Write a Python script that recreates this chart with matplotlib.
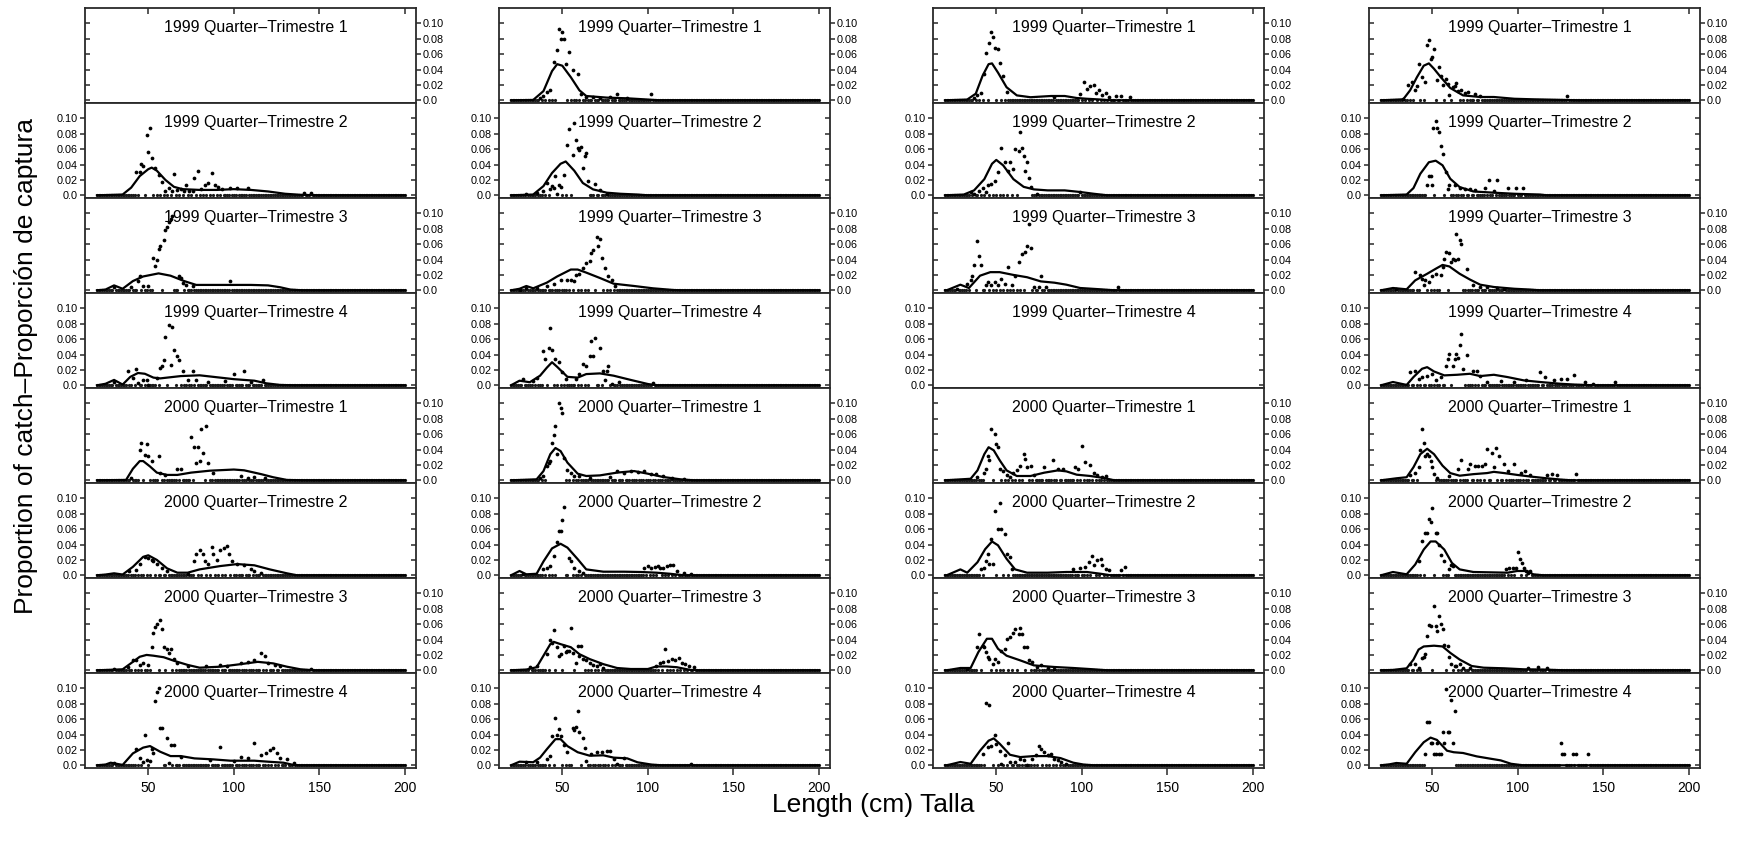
import matplotlib.pyplot as plt

plt.rcParams['font.family'] = ['Liberation Sans', 'DejaVu Sans']

W, H = 1745, 852

titles = ['1999 Quarter–Trimestre 1', '1999 Quarter–Trimestre 2',
          '1999 Quarter–Trimestre 3', '1999 Quarter–Trimestre 4',
          '2000 Quarter–Trimestre 1', '2000 Quarter–Trimestre 2',
          '2000 Quarter–Trimestre 3', '2000 Quarter–Trimestre 4']
length_bins = list(range(20, 201))
y_ticks = [0.0, 0.02, 0.04, 0.06, 0.08, 0.10]
y_labels = ['0.0', '0.02', '0.04', '0.06', '0.08', '0.10']
x_ticks = [50, 100, 150, 200]

# predicted (fit) and observed (obs, non-zero only) proportions, (length, proportion)
# ---- column 1
fit_1_1 = []
obs_1_1 = []
fit_1_2 = [(20, 0), (35, 0.001), (40, 0.010), (45, 0.025), (50, 0.034), (52, 0.036), (55, 0.032), (60, 0.020),
           (65, 0.011), (70, 0.008), (80, 0.007), (90, 0.007), (100, 0.008), (110, 0.007), (120, 0.005),
           (130, 0.002), (140, 0.0005), (150, 0), (200, 0)]
obs_1_2 = [(43, 0.030), (45, 0.030), (46, 0.041), (47, 0.038), (49, 0.078), (51, 0.087), (50, 0.056), (52, 0.048),
           (54, 0.036), (56, 0.027), (58, 0.017), (65, 0.028), (62, 0.010), (69, 0.008), (72, 0.014), (77, 0.023),
           (79, 0.031), (81, 0.008), (83, 0.014), (85, 0.016), (87, 0.029), (89, 0.014), (91, 0.011), (93, 0.008),
           (98, 0.009), (102, 0.009), (108, 0.009), (141, 0.003), (145, 0.003), (60, 0.005), (64, 0.006),
           (67, 0.007), (71, 0.006), (74, 0.005), (76, 0.006)]
fit_1_3 = [(20, 0), (25, 0.001), (30, 0.0064), (35, 0.002), (41, 0.012), (47, 0.018), (56, 0.022), (63, 0.019),
           (71, 0.012), (78, 0.007), (90, 0.007), (110, 0.007), (120, 0.0064), (127, 0.004), (133, 0.001),
           (140, 0), (200, 0)]
obs_1_3 = [(44, 0.012), (45, 0.019), (47, 0.005), (50, 0.006), (53, 0.042), (54, 0.032), (55, 0.039), (56, 0.054),
           (57, 0.057), (59, 0.065), (60, 0.078), (61, 0.082), (62, 0.089), (63, 0.093), (64, 0.096), (68, 0.019),
           (69, 0.016), (70, 0.010), (72, 0.007), (76, 0.005), (98, 0.012), (30, 0.004), (40, 0.004)]
fit_1_4 = [(20, 0), (25, 0.002), (30, 0.007), (35, 0.001), (39.5, 0.011), (44, 0.016), (48, 0.015), (53, 0.010),
           (57, 0.009), (69, 0.012), (80, 0.013), (88, 0.011), (100, 0.008), (112, 0.006), (119, 0.0026),
           (127, 0.0005), (135, 0), (200, 0)]
obs_1_4 = [(38, 0.018), (43, 0.021), (41, 0.010), (44, 0.003), (47, 0.007), (49, 0.007), (50, 0.001), (55, 0.010),
           (57, 0.022), (58, 0.025), (59, 0.033), (60, 0.063), (62, 0.078), (64, 0.076), (63, 0.027), (65, 0.046),
           (67, 0.038), (68, 0.033), (70, 0.018), (73, 0.007), (76, 0.018), (78, 0.007), (100, 0.015),
           (106, 0.018), (117, 0.007), (30, 0.004), (85, 0.004), (95, 0.005), (110, 0.004)]
fit_1_5 = [(20, 0), (37, 0.0005), (41, 0.015), (45, 0.025), (47, 0.025), (51, 0.018), (55, 0.010), (61, 0.007),
           (67, 0.007), (75, 0.010), (86, 0.0125), (100, 0.014), (106, 0.013), (116, 0.008), (123, 0.004),
           (131, 0.0005), (140, 0), (200, 0)]
obs_1_5 = [(46, 0.048), (49, 0.047), (45, 0.039), (48, 0.033), (50, 0.031), (52, 0.025), (56, 0.031), (57, 0.009),
           (60, 0.007), (67, 0.015), (69, 0.015), (75, 0.056), (77, 0.043), (79, 0.043), (78, 0.022), (80, 0.025),
           (81, 0.067), (84, 0.070), (82, 0.036), (85, 0.022), (88, 0.010), (104, 0.0056), (108, 0.0026),
           (40, 0.003), (112, 0.004), (118, 0.003)]
fit_1_6 = [(20, 0), (25, 0.001), (30, 0.0026), (35, 0.001), (41, 0.011), (47, 0.024), (50, 0.026), (55, 0.020),
           (61, 0.009), (67, 0.0034), (73, 0.0034), (80, 0.0077), (92, 0.012), (102, 0.0146), (112, 0.013),
           (121, 0.0077), (131, 0.0026), (137, 0), (200, 0)]
obs_1_6 = [(39, 0.005), (43, 0.007), (48, 0.024), (50, 0.022), (52, 0.020), (55, 0.015), (58, 0.009), (61, 0.005),
           (73, 0.002), (77, 0.018), (78, 0.028), (80, 0.033), (82, 0.028), (83, 0.018), (85, 0.015), (87, 0.037),
           (88, 0.028), (90, 0.020), (92, 0.033), (94, 0.035), (96, 0.038), (97, 0.028), (99, 0.018), (102, 0.015),
           (106, 0.013), (110, 0.008), (112, 0.005), (116, 0.003), (45, 0.015), (53, 0.018)]
fit_1_7 = [(20, 0), (35, 0.0013), (41, 0.011), (45, 0.0176), (49, 0.020), (53, 0.019), (59, 0.017), (65, 0.0124),
           (73, 0.007), (80, 0.0034), (92, 0.0047), (104, 0.008), (114, 0.011), (123, 0.009), (131, 0.0047),
           (139, 0.0013), (147, 0), (200, 0)]
obs_1_7 = [(41, 0.014), (43, 0.013), (45, 0.007), (47, 0.009), (50, 0.007), (52, 0.030), (53, 0.048), (54, 0.056),
           (55, 0.060), (57, 0.065), (58, 0.054), (59, 0.030), (61, 0.028), (63, 0.028), (62, 0.022), (65, 0.015),
           (67, 0.009), (73, 0.005), (84, 0.005), (92, 0.007), (96, 0.005), (104, 0.009), (108, 0.011),
           (112, 0.014), (116, 0.022), (118, 0.018), (120, 0.009), (124, 0.007), (127, 0.005), (145, 0.0013),
           (30, 0.002), (38, 0.004)]
fit_1_8 = [(20, 0), (25, 0.001), (28, 0.0034), (35, 0.0005), (41, 0.0155), (47, 0.023), (51, 0.025), (57, 0.0176),
           (63, 0.012), (69, 0.012), (77, 0.009), (88, 0.0077), (98, 0.006), (112, 0.006), (120, 0.0047),
           (129, 0.0034), (135, 0.0004), (139, 0), (200, 0)]
obs_1_8 = [(43, 0.021), (45, 0.009), (47, 0.0047), (48, 0.040), (49, 0.007), (51, 0.005), (52, 0.021), (53, 0.0155),
           (54, 0.083), (55, 0.095), (56, 0.101), (57, 0.049), (58, 0.048), (61, 0.036), (63, 0.026), (65, 0.026),
           (62, 0.0026), (69, 0.011), (86, 0.007), (92, 0.024), (100, 0.006), (104, 0.011), (108, 0.009),
           (112, 0.029), (116, 0.013), (119, 0.0155), (121, 0.020), (123, 0.022), (125, 0.0155), (127, 0.009),
           (131, 0.0077), (135, 0.0026), (30, 0.003)]
# ---- column 2
fit_2_1 = [(20, 0), (33, 0.0005), (39, 0.012), (44, 0.038), (47, 0.047), (50, 0.045), (55, 0.030), (60, 0.013),
           (64, 0.0056), (76, 0.0035), (88, 0.0026), (100, 0.001), (107, 0), (200, 0)]
obs_2_1 = [(37, 0.003), (39, 0.0056), (41, 0.011), (43, 0.014), (45, 0.050), (47, 0.066), (48, 0.093), (49, 0.080),
           (50, 0.089), (51, 0.080), (52, 0.047), (54, 0.063), (56, 0.040), (59, 0.034), (61, 0.0087),
           (64, 0.0043), (68, 0.004), (82, 0.0077), (88, 0.003), (102, 0.0077), (72, 0.003), (78, 0.004)]
fit_2_2 = [(20, 0), (33, 0.001), (39, 0.012), (44, 0.029), (49, 0.041), (52, 0.044), (57, 0.032), (62, 0.016),
           (68, 0.0077), (76, 0.0034), (84, 0.002), (94, 0.001), (100, 0), (200, 0)]
obs_2_2 = [(29, 0.002), (35, 0.0034), (39, 0.0056), (41, 0.016), (43, 0.0077), (44, 0.012), (45, 0.009),
           (46, 0.025), (47, 0.002), (48, 0.014), (49, 0.011), (51, 0.027), (53, 0.065), (54, 0.086), (57, 0.094),
           (56, 0.053), (58, 0.072), (59, 0.061), (60, 0.059), (61, 0.063), (62, 0.036), (63, 0.051), (64, 0.055),
           (65, 0.019), (69, 0.015), (72, 0.0064), (76, 0.002)]
fit_2_3 = [(20, 0), (25, 0.002), (29, 0.0056), (33, 0.0026), (41, 0.010), (47, 0.018), (55, 0.027), (59, 0.027),
           (64, 0.023), (72, 0.016), (80, 0.0086), (92, 0.0056), (103, 0.0026), (115, 0.0004), (120, 0), (200, 0)]
obs_2_3 = [(25, 0.001), (29, 0.0034), (35, 0.0034), (41, 0.0056), (45, 0.0086), (49, 0.014), (53, 0.013),
           (55, 0.014), (57, 0.012), (58, 0.020), (60, 0.021), (62, 0.029), (64, 0.036), (66, 0.038), (67, 0.049),
           (68, 0.053), (70, 0.069), (72, 0.067), (71, 0.057), (73, 0.042), (75, 0.029), (77, 0.019), (79, 0.014),
           (81, 0.0056)]
fit_2_4 = [(20, 0), (25, 0.006), (31, 0.004), (37, 0.0125), (41, 0.023), (44, 0.030), (47, 0.024), (53, 0.011),
           (59, 0.010), (64, 0.0146), (72, 0.0155), (80, 0.0125), (90, 0.007), (100, 0.0017), (105, 0), (200, 0)]
obs_2_4 = [(27, 0.008), (33, 0.006), (35, 0.0094), (39, 0.045), (42, 0.049), (44, 0.046), (43, 0.075), (40, 0.034),
           (46, 0.034), (48, 0.030), (50, 0.017), (52, 0.008), (58, 0.008), (60, 0.0146), (62, 0.028), (64, 0.025),
           (66, 0.038), (67, 0.057), (69, 0.061), (68, 0.038), (72, 0.048), (74, 0.019), (76, 0.019), (77, 0.025),
           (75, 0.007), (79, 0.0017), (83, 0.004), (103, 0.0026)]
fit_2_5 = [(20, 0), (35, 0.0013), (39, 0.012), (43, 0.034), (46, 0.042), (49, 0.038), (53, 0.023), (59, 0.0086),
           (64, 0.0056), (72, 0.0064), (82, 0.010), (92, 0.012), (100, 0.0086), (109, 0.0043), (119, 0.0013),
           (127, 0), (200, 0)]
obs_2_5 = [(37, 0.0034), (39, 0.0056), (41, 0.018), (42, 0.023), (43, 0.025), (44, 0.048), (45, 0.059),
           (46, 0.071), (48, 0.100), (49, 0.094), (50, 0.087), (47, 0.034), (51, 0.029), (53, 0.014), (55, 0.0099),
           (57, 0.0056), (60, 0.0056), (66, 0.0034), (78, 0.0043), (82, 0.012), (86, 0.0099), (90, 0.012),
           (94, 0.011), (98, 0.012), (102, 0.0086), (105, 0.0077), (109, 0.0056), (114, 0.0034), (121, 0.002)]
fit_2_6 = [(20, 0), (25, 0.0056), (29, 0.0013), (35, 0.002), (39, 0.018), (44, 0.035), (49, 0.041), (53, 0.036),
           (59, 0.021), (64, 0.0077), (74, 0.0047), (86, 0.0047), (96, 0.0043), (105, 0.0034), (113, 0.002),
           (121, 0), (200, 0)]
obs_2_6 = [(27, 0.002), (39, 0.0077), (41, 0.010), (43, 0.012), (45, 0.025), (47, 0.043), (48, 0.057), (49, 0.058),
           (50, 0.072), (51, 0.089), (54, 0.023), (55, 0.018), (57, 0.010), (60, 0.0056), (62, 0.0034),
           (98, 0.010), (100, 0.012), (102, 0.010), (104, 0.011), (106, 0.012), (107, 0.010), (109, 0.010),
           (111, 0.012), (113, 0.014), (115, 0.013), (117, 0.0056), (121, 0.0034), (125, 0.002)]
fit_2_7 = [(20, 0), (29, 0.001), (35, 0.004), (39, 0.019), (43, 0.034), (45, 0.037), (49, 0.034), (55, 0.030),
           (60, 0.021), (66, 0.0146), (74, 0.008), (82, 0.003), (90, 0.0017), (100, 0.0017), (105, 0.005),
           (111, 0.005), (117, 0.004), (125, 0.0004), (130, 0), (200, 0)]
obs_2_7 = [(31, 0.004), (35, 0.005), (41, 0.021), (43, 0.040), (45, 0.052), (44, 0.036), (47, 0.030), (48, 0.019),
           (49, 0.021), (51, 0.032), (52, 0.024), (53, 0.025), (55, 0.055), (54, 0.025), (56, 0.022), (58, 0.010),
           (59, 0.032), (61, 0.032), (60, 0.019), (62, 0.015), (64, 0.014), (66, 0.009), (68, 0.0069), (70, 0.005),
           (72, 0.008), (74, 0.0026), (105, 0.006), (107, 0.010), (110, 0.028), (109, 0.011), (112, 0.012),
           (114, 0.0146), (116, 0.014), (118, 0.0155), (120, 0.010), (122, 0.008), (124, 0.006), (127, 0.004)]
fit_2_8 = [(20, 0), (25, 0.0047), (33, 0.004), (37, 0.010), (41, 0.021), (46, 0.034), (49, 0.034), (53, 0.025),
           (59, 0.017), (66, 0.0125), (74, 0.013), (80, 0.010), (88, 0.009), (94, 0.0039), (102, 0.001),
           (108, 0), (200, 0)]
obs_2_8 = [(29, 0.004), (35, 0.004), (41, 0.008), (43, 0.0125), (44, 0.038), (46, 0.062), (47, 0.039), (48, 0.047),
           (49, 0.038), (51, 0.027), (53, 0.017), (56, 0.049), (57, 0.046), (58, 0.050), (59, 0.070), (60, 0.043),
           (62, 0.036), (63, 0.023), (64, 0.006), (67, 0.0146), (70, 0.017), (73, 0.017), (76, 0.018), (78, 0.019),
           (80, 0.008), (82, 0.0017), (86, 0.009), (125, 0.0017)]
# ---- column 3
fit_3_1 = [(20, 0), (33, 0.001), (38, 0.0086), (42, 0.032), (45.5, 0.047), (47.5, 0.048), (51, 0.036), (56, 0.017),
           (62, 0.0064), (70, 0.004), (82, 0.0056), (90, 0.0056), (97, 0.003), (103, 0.002), (111, 0.001),
           (117, 0), (200, 0)]
obs_3_1 = [(37, 0.003), (39, 0.0073), (41, 0.0099), (43, 0.034), (44, 0.062), (46, 0.075), (47, 0.089), (48, 0.082),
           (49, 0.068), (51, 0.067), (52, 0.049), (54, 0.032), (56, 0.011), (84, 0.0043), (99, 0.0086),
           (101, 0.024), (103, 0.015), (105, 0.019), (107, 0.020), (108, 0.0099), (110, 0.013), (112, 0.0073),
           (114, 0.0099), (116, 0.0043), (120, 0.0056), (123, 0.0056), (128, 0.0043)]
fit_3_2 = [(20, 0), (31, 0.001), (37, 0.0064), (43, 0.021), (47.5, 0.041), (50, 0.046), (54, 0.039), (60, 0.021),
           (66, 0.011), (72, 0.0077), (80, 0.0064), (90, 0.0064), (99, 0.0043), (107, 0.002), (115, 0), (200, 0)]
obs_3_2 = [(35, 0.0043), (37, 0.002), (40, 0.005), (42, 0.0094), (44, 0.0043), (45, 0.013), (47, 0.015),
           (49, 0.018), (51, 0.030), (53, 0.062), (55, 0.043), (57, 0.032), (58, 0.043), (60, 0.034), (61, 0.060),
           (63, 0.058), (64, 0.082), (65, 0.061), (66, 0.051), (67, 0.032), (68, 0.043), (69, 0.022), (70, 0.011),
           (74, 0.002), (99, 0.0043)]
fit_3_3 = [(20, 0), (21, 0), (29, 0.0073), (34, 0.003), (40.5, 0.019), (46.5, 0.0236), (52, 0.0236), (60, 0.020),
           (68, 0.017), (76, 0.0116), (84, 0.0099), (91, 0.0073), (99, 0.003), (111, 0.0013), (119, 0), (200, 0)]
obs_3_3 = [(27, 0.002), (33, 0.0086), (35, 0.0129), (36, 0.018), (37, 0.033), (39, 0.064), (40, 0.0446),
           (41, 0.033), (44, 0.0064), (45, 0.0107), (47, 0.0064), (49, 0.0107), (51, 0.0064), (53, 0.015),
           (55, 0.0086), (57, 0.030), (59, 0.0064), (61, 0.019), (63, 0.0365), (65, 0.047), (67, 0.050),
           (68, 0.058), (70, 0.0545), (69, 0.086), (72, 0.0043), (76, 0.019), (75, 0.0043), (79, 0.0043),
           (121, 0.0043)]
fit_3_4 = []
obs_3_4 = []
fit_3_5 = [(20, 0), (35, 0.002), (39, 0.0129), (43, 0.034), (45.5, 0.043), (48.5, 0.039), (52, 0.026), (56, 0.0129),
           (62, 0.0056), (70, 0.0056), (78, 0.0099), (86, 0.0129), (91, 0.0116), (97, 0.0073), (105, 0.0056),
           (113, 0.003), (119, 0), (200, 0)]
obs_3_5 = [(39, 0.004), (43, 0.0099), (44, 0.015), (45, 0.032), (46, 0.027), (47, 0.0665), (49, 0.060), (50, 0.047),
           (51, 0.043), (52, 0.015), (54, 0.0116), (56, 0.0073), (58, 0.0043), (60, 0.0099), (62, 0.0129),
           (64, 0.019), (66, 0.034), (67, 0.028), (68, 0.017), (70, 0.019), (72, 0.0064), (78, 0.017), (83, 0.026),
           (86, 0.015), (89, 0.015), (96, 0.017), (98, 0.015), (100, 0.045), (102, 0.024), (105, 0.020),
           (107, 0.0099), (109, 0.0064), (112, 0.0043), (114, 0.0056)]
fit_3_6 = [(20, 0), (21, 0), (29, 0.0077), (33, 0.0034), (39, 0.017), (43.5, 0.034), (47.5, 0.044), (51, 0.039),
           (56, 0.0215), (61, 0.0077), (68, 0.0034), (80, 0.0034), (91, 0.0043), (103, 0.0043), (111, 0.002),
           (117, 0), (200, 0)]
obs_3_6 = [(41, 0.0086), (43, 0.0094), (44, 0.019), (45, 0.028), (46, 0.015), (47, 0.047), (48, 0.015), (49, 0.084),
           (52, 0.094), (51, 0.060), (53, 0.060), (55, 0.054), (56, 0.028), (58, 0.0236), (59, 0.0086),
           (95, 0.0086), (99, 0.0094), (102, 0.0107), (104, 0.017), (106, 0.025), (107, 0.0129), (109, 0.0193),
           (111, 0.0206), (112, 0.0129), (114, 0.0086), (116, 0.0064), (123, 0.0064), (125, 0.0107)]
fit_3_7 = [(20, 0), (21, 0), (29, 0.003), (35, 0.003), (39.5, 0.0236), (44.5, 0.041), (47.5, 0.041), (51, 0.028),
           (56, 0.019), (64, 0.0129), (72, 0.0064), (84, 0.0043), (95, 0.003), (107, 0.0013), (115, 0), (200, 0)]
obs_3_7 = [(33, 0.002), (39, 0.030), (40, 0.047), (42, 0.032), (43, 0.030), (44, 0.0236), (45, 0.017), (46, 0.015),
           (48, 0.0086), (49, 0.015), (51, 0.0107), (53, 0.0257), (55, 0.028), (56, 0.041), (58, 0.043),
           (60, 0.049), (61, 0.054), (63, 0.047), (64, 0.055), (65, 0.047), (66, 0.030), (68, 0.030), (69, 0.0129),
           (71, 0.0107), (74, 0.0043), (76, 0.0064), (80, 0.003), (84, 0.002)]
fit_3_8 = [(20, 0), (21, 0), (29, 0.0043), (35, 0.002), (40.5, 0.019), (45.5, 0.032), (48.5, 0.035), (52, 0.028),
           (58, 0.0137), (64, 0.0107), (72, 0.012), (80, 0.012), (87.5, 0.0094), (95, 0.0034), (101, 0.001),
           (107, 0), (200, 0)]
obs_3_8 = [(44, 0.0815), (46, 0.079), (42, 0.015), (45, 0.0236), (47, 0.0257), (49, 0.039), (50, 0.028),
           (52, 0.019), (53, 0.002), (55, 0.0129), (57, 0.029), (58, 0.0043), (61, 0.0043), (64, 0.0086),
           (66, 0.0064), (68, 0.001), (71, 0.0086), (73, 0.0129), (75, 0.0257), (76, 0.0215), (78, 0.017),
           (80, 0.0129), (82, 0.015), (84, 0.0086), (86, 0.0064), (88, 0.0043), (91, 0.002)]
# ---- column 4
fit_4_1 = [(20, 0), (33, 0.0013), (37, 0.0129), (41, 0.030), (45, 0.045), (48, 0.048), (51, 0.041), (55, 0.030),
           (60.5, 0.016), (68, 0.0064), (78, 0.0043), (86, 0.0043), (98, 0.002), (109, 0.0013), (129, 0.0004),
           (135, 0), (200, 0)]
obs_4_1 = [(33, 0.002), (36, 0.020), (38, 0.0236), (40, 0.0129), (41, 0.019), (42, 0.047), (44, 0.030), (46, 0.0236),
           (47, 0.0716), (48, 0.079), (49, 0.054), (50, 0.056), (51, 0.0665), (53, 0.027), (54, 0.043), (55, 0.031),
           (56, 0.020), (58, 0.028), (59, 0.0215), (60, 0.0064), (62, 0.017), (63, 0.019), (64, 0.0227),
           (65, 0.0116), (67, 0.0129), (69, 0.0099), (71, 0.0107), (75, 0.0086), (78, 0.0056), (129, 0.0056)]
fit_4_2 = [(20, 0), (35, 0.001), (39, 0.0094), (43, 0.028), (48, 0.043), (52, 0.045), (56, 0.039), (60.5, 0.0215),
           (66, 0.0107), (74, 0.005), (86, 0.0034), (98, 0.002), (113, 0.001), (117, 0), (200, 0)]
obs_4_2 = [(47, 0.0129), (48, 0.025), (49, 0.025), (50, 0.0129), (50.4, 0.088), (52, 0.0965), (53, 0.087),
           (54, 0.082), (55, 0.064), (56, 0.054), (58, 0.030), (59, 0.0086), (60, 0.0129), (63, 0.0137),
           (66, 0.0094), (69, 0.0086), (72, 0.0086), (75, 0.0064), (81, 0.0094), (83, 0.0193), (86, 0.005),
           (88, 0.0193), (94, 0.0094), (99, 0.0094), (103, 0.0094)]
fit_4_3 = [(20, 0), (27, 0.003), (35, 0.0013), (40, 0.0129), (47, 0.0215), (52, 0.028), (56, 0.033), (60, 0.031),
           (66, 0.0215), (72, 0.014), (78, 0.0073), (86, 0.0043), (98, 0.002), (107, 0.001), (113, 0), (200, 0)]
obs_4_3 = [(29, 0.002), (40, 0.0236), (43, 0.020), (44, 0.015), (45, 0.0064), (46, 0.0129), (48, 0.0107),
           (50, 0.019), (52, 0.0215), (55, 0.020), (56, 0.030), (57, 0.041), (58, 0.050), (60, 0.048), (61, 0.037),
           (62, 0.041), (64, 0.073), (66, 0.066), (67, 0.060), (65, 0.041), (63, 0.039), (70, 0.028), (74, 0.0064),
           (78, 0.0043), (82, 0.0043), (88, 0.003), (92, 0.002)]
fit_4_4 = [(20, 0), (27, 0.0043), (35, 0.0005), (39, 0.0107), (44, 0.0215), (47, 0.0236), (51, 0.018), (57, 0.0129),
           (64.5, 0.0137), (72, 0.015), (78, 0.012), (86, 0.0137), (94, 0.0107), (103.5, 0.0064), (113, 0.0043),
           (125, 0.002), (133, 0.001), (144.5, 0), (200, 0)]
obs_4_4 = [(37, 0.017), (40, 0.018), (42, 0.0086), (44, 0.0107), (47, 0.012), (50, 0.015), (52, 0.0064),
           (55, 0.0107), (58, 0.0257), (59, 0.034), (60, 0.041), (62, 0.0257), (63, 0.034), (64, 0.041), (65, 0.036),
           (67, 0.0665), (66, 0.052), (68, 0.0215), (70, 0.039), (74, 0.019), (76, 0.019), (78, 0.012), (82, 0.0043),
           (90, 0.005), (98, 0.0043), (105, 0.0064), (113, 0.017), (116, 0.0107), (121, 0.0064), (125, 0.0086),
           (129, 0.0086), (133, 0.0137), (139, 0.0043), (144, 0.002), (157, 0.0043)]
fit_4_5 = [(20, 0), (29, 0.0026), (35, 0.004), (39, 0.017), (43, 0.034), (47, 0.041), (51, 0.034), (56, 0.019),
           (60.5, 0.0094), (66, 0.006), (74, 0.008), (82, 0.0094), (86, 0.011), (92, 0.0094), (100, 0.0069),
           (107, 0.005), (117, 0.0026), (125, 0.001), (131, 0), (200, 0)]
obs_4_5 = [(37, 0.0069), (40, 0.010), (42, 0.017), (43, 0.040), (44, 0.067), (45, 0.049), (46, 0.032), (47, 0.034),
           (48, 0.031), (49, 0.025), (50, 0.017), (51, 0.008), (53, 0.0026), (60, 0.006), (65, 0.0146), (67, 0.027),
           (71, 0.0146), (72, 0.021), (75, 0.019), (77, 0.019), (79, 0.018), (81, 0.021), (82, 0.041), (85, 0.036),
           (87, 0.042), (89, 0.031), (86, 0.017), (92, 0.021), (94, 0.0124), (98, 0.021), (102, 0.0094),
           (104, 0.0124), (107, 0.0069), (117, 0.0069), (120, 0.008), (123, 0.0069), (134, 0.008)]
fit_4_6 = [(20, 0), (27, 0.0043), (35, 0.0013), (40, 0.014), (45, 0.0335), (49, 0.044), (52, 0.044), (57, 0.0335),
           (61.5, 0.016), (66, 0.0077), (74, 0.0043), (94, 0.0034), (99.6, 0.0056), (105.5, 0.0056), (109, 0.0013),
           (115, 0), (200, 0)]
obs_4_6 = [(42, 0.018), (44, 0.044), (46, 0.055), (47, 0.055), (48, 0.073), (49, 0.069), (50, 0.088), (52, 0.055),
           (53, 0.055), (54, 0.040), (55, 0.027), (57, 0.018), (60, 0.0077), (61, 0.014), (62, 0.012), (93, 0.0086),
           (95, 0.0099), (97, 0.0099), (99, 0.0099), (100, 0.030), (101, 0.0206), (102.6, 0.016), (103.5, 0.0099),
           (104.5, 0.0056), (106, 0.0034), (107, 0.0056)]
fit_4_7 = [(20, 0), (27, 0.0005), (35, 0.0026), (39, 0.014), (42, 0.027), (45, 0.031), (51, 0.032), (56, 0.031),
           (60.5, 0.0227), (66, 0.014), (73, 0.0056), (80, 0.0034), (92, 0.0026), (103.5, 0.0013), (115, 0.001),
           (127, 0), (200, 0)]
obs_4_7 = [(37, 0.0077), (40, 0.0077), (42, 0.0034), (44, 0.0155), (45, 0.017), (46, 0.0206), (47, 0.044),
           (48, 0.059), (49, 0.057), (51, 0.083), (52, 0.057), (53, 0.051), (54, 0.071), (55, 0.060), (56, 0.054),
           (57, 0.033), (59, 0.031), (60, 0.017), (61, 0.0086), (63, 0.0056), (64, 0.0056), (66, 0.0077),
           (68, 0.0034), (72, 0.0034), (106, 0.0026), (112, 0.0047), (117, 0.0026)]
fit_4_8 = [(20, 0), (25, 0.0013), (29, 0.003), (35, 0.002), (40, 0.017), (45, 0.030), (49, 0.036), (52.7, 0.033),
           (58.6, 0.019), (62.5, 0.017), (68, 0.016), (76, 0.0116), (84, 0.0086), (90, 0.0064), (96, 0.002),
           (103, 0), (200, 0)]
obs_4_8 = [(47, 0.056), (48, 0.056), (50, 0.029), (51, 0.015), (53, 0.029), (52, 0.015), (55, 0.015), (56, 0.043),
           (58, 0.099), (60, 0.043), (61, 0.085), (62, 0.029), (63, 0.070), (46, 0.015), (49, 0.029), (54, 0.015),
           (57, 0.029), (59, 0.043), (125, 0.029), (126, 0.015), (127, 0.015), (132, 0.015), (134, 0.015),
           (141, 0.015)]

fits = [[fit_1_1, fit_1_2, fit_1_3, fit_1_4, fit_1_5, fit_1_6, fit_1_7, fit_1_8],
        [fit_2_1, fit_2_2, fit_2_3, fit_2_4, fit_2_5, fit_2_6, fit_2_7, fit_2_8],
        [fit_3_1, fit_3_2, fit_3_3, fit_3_4, fit_3_5, fit_3_6, fit_3_7, fit_3_8],
        [fit_4_1, fit_4_2, fit_4_3, fit_4_4, fit_4_5, fit_4_6, fit_4_7, fit_4_8]]
observed = [[obs_1_1, obs_1_2, obs_1_3, obs_1_4, obs_1_5, obs_1_6, obs_1_7, obs_1_8],
            [obs_2_1, obs_2_2, obs_2_3, obs_2_4, obs_2_5, obs_2_6, obs_2_7, obs_2_8],
            [obs_3_1, obs_3_2, obs_3_3, obs_3_4, obs_3_5, obs_3_6, obs_3_7, obs_3_8],
            [obs_4_1, obs_4_2, obs_4_3, obs_4_4, obs_4_5, obs_4_6, obs_4_7, obs_4_8]]

col_left = [85, 499, 933, 1369]
panel_w, panel_h, top0 = 331, 95, 8
frame = '#2a2a2a'


def draw_panel(ax, fit, obs):
    if obs:
        xs = [p[0] for p in obs]
        ys = [p[1] for p in obs]
        taken = {round(x) for x in xs}
        zx = [x for x in length_bins if x not in taken]
        ax.plot(zx, [0] * len(zx), 'o', ms=2.3, mew=0, color='#1a1a1a')
        ax.plot(xs, ys, 'o', ms=2.7, mew=0, color='black')
    if fit:
        ax.plot([p[0] for p in fit], [p[1] for p in fit], '-', lw=1.6, color='black')


fig = plt.figure(figsize=(W / 100, H / 100), dpi=100)

for c in range(4):
    for r in range(8):
        top = top0 + panel_h * r
        ax = fig.add_axes([col_left[c] / W, 1 - (top + panel_h) / H, panel_w / W, panel_h / H])
        draw_panel(ax, fits[c][r], observed[c][r])
        ax.set_xlim(13, 206.5)
        ax.set_ylim(-0.0035, 0.12)
        for s in ax.spines.values():
            s.set_color(frame)
            s.set_linewidth(1.3)
        ax.text(0.515, 0.745, titles[r], transform=ax.transAxes, ha='center', va='baseline', fontsize=11.5)

        # x axis: ticks only on outer rows
        ax.set_xticks(x_ticks)
        if r == 0:
            ax.tick_params(axis='x', top=True, bottom=False, direction='in', length=4, width=1.1,
                           labeltop=False, labelbottom=False, color=frame)
        elif r == 7:
            ax.tick_params(axis='x', top=False, bottom=True, direction='out', length=5, width=1.1,
                           labelbottom=True, labelsize=10, pad=4, color=frame)
        else:
            ax.tick_params(axis='x', top=False, bottom=False, labelbottom=False)

        # y axis: labels alternate right / left
        label_right = (r % 2 == 0)
        ax.set_yticks(y_ticks)
        ax.set_yticklabels(y_labels)
        ax.tick_params(axis='y', left=True, right=False, labelleft=not label_right,
                       direction='in' if label_right else 'out', length=3.6, width=1.1,
                       labelsize=7.8, pad=1.5, color=frame)
        sec = ax.secondary_yaxis('right')
        sec.set_yticks(y_ticks)
        sec.set_yticklabels(y_labels)
        sec.spines['right'].set_visible(False)
        sec.tick_params(axis='y', direction='out' if label_right else 'in', length=3.6, width=1.1,
                        labelright=label_right, labelsize=7.8, pad=1.5, color=frame)

fig.text(873 / W, 1 - 805 / H, 'Length (cm) Talla', ha='center', va='center', fontsize=19)
fig.text(26 / W, 1 - 366 / H, 'Proportion of catch–Proporción de captura', ha='center', va='center',
         rotation=90, fontsize=19)

fig.savefig('out.png', dpi=100)
